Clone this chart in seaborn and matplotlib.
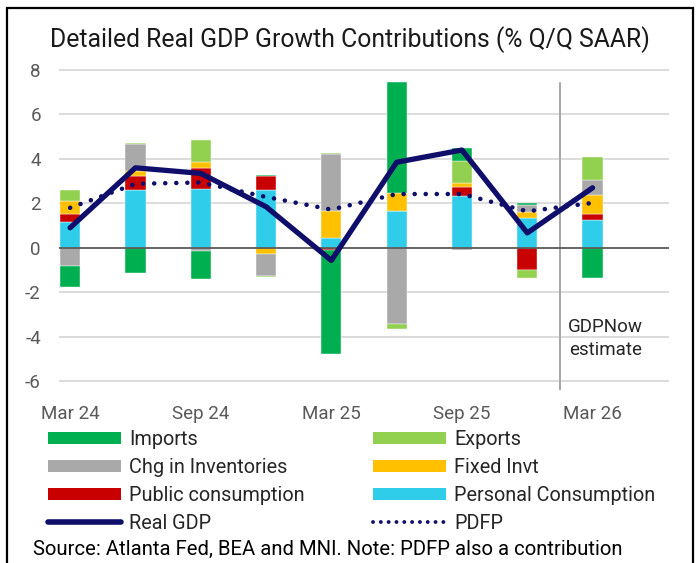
import numpy as np
import pandas as pd
import matplotlib
matplotlib.use("Agg")
import matplotlib.pyplot as plt
from matplotlib.patches import Patch, Rectangle
from matplotlib.lines import Line2D
import seaborn as sns

# Quarterly contributions to real GDP growth (% Q/Q SAAR)
quarters = ['Mar 24', 'Jun 24', 'Sep 24', 'Dec 24', 'Mar 25', 'Jun 25', 'Sep 25', 'Dec 25', 'Mar 26']
tick_labels = ['Mar 24', 'Sep 24', 'Mar 25', 'Sep 25', 'Mar 26']

personal = [1.17, 2.59, 2.66, 2.59, 0.42, 1.67, 2.35, 1.35, 1.23]
public = [0.37, 0.63, 0.93, 0.63, -0.10, 0.0, 0.37, -1.00, 0.31]
fixed_invt = [0.55, 0.22, 0.25, -0.30, 1.23, 0.79, 0.19, 0.25, 0.82]
inventories = [-0.82, 1.23, -0.15, -0.97, 2.57, -3.44, -0.12, 0.33, 0.67]
exports = [0.50, 0.05, 0.99, -0.03, 0.05, -0.22, 1.00, -0.37, 1.05]
imports = [-0.93, -1.12, -1.27, 0.07, -4.70, 5.00, 0.60, 0.09, -1.37]

real_gdp = [0.9, 3.6, 3.35, 1.85, -0.57, 3.85, 4.4, 0.67, 2.7]
pdfp = [1.8, 2.88, 2.94, 2.29, 1.72, 2.42, 2.42, 1.64, 2.02]

# stacking order (bottom to top) and colours
series = [
    ('Personal Consumption', personal, '#30CDEB'),
    ('Public consumption', public, '#C80000'),
    ('Fixed Invt', fixed_invt, '#FFC000'),
    ('Chg in Inventories', inventories, '#A9A9A9'),
    ('Exports', exports, '#92D050'),
    ('Imports', imports, '#00B050'),
]
navy = '#0F0F6B'

sns.set_theme(style="white")
plt.rcParams['font.family'] = ['Roboto', 'DejaVu Sans']

fig = plt.figure(figsize=(6.99, 5.63), dpi=100)
W, H = 699, 563
ax = fig.add_axes([59 / W, 1 - 390 / H, (669 - 59) / W, (390 - 65.6) / H])

x = np.arange(len(quarters))
pos_base = np.zeros(len(x))
neg_base = np.zeros(len(x))
for name, vals, col in series:
    v = np.array(vals, dtype=float)
    bottoms = np.where(v >= 0, pos_base, neg_base)
    ax.bar(x, v, width=0.31, bottom=bottoms, color=col, edgecolor='white', linewidth=0.3, zorder=2)
    pos_base = pos_base + np.where(v >= 0, v, 0)
    neg_base = neg_base + np.where(v < 0, v, 0)

df = pd.DataFrame({'x': x, 'Real GDP': real_gdp, 'PDFP': pdfp})
sns.lineplot(data=df, x='x', y='PDFP', ax=ax, color=navy, linewidth=3.3,
             linestyle=(0, (0.01, 2.4)), dash_capstyle='round', zorder=3)
sns.lineplot(data=df, x='x', y='Real GDP', ax=ax, color=navy, linewidth=3.8,
             solid_joinstyle='round', solid_capstyle='round', zorder=4)

ax.set_xlim(-0.17, 9.17)
ax.set_ylim(-6.4, 8.2)
ax.set_yticks(np.arange(-6, 9, 2))
ax.set_yticklabels([str(v) for v in range(-6, 9, 2)])
ax.set_xticks(x[::2])
ax.set_xticklabels(tick_labels)
ax.tick_params(axis='both', length=0, labelsize=13.5, labelcolor='#595959')
ax.tick_params(axis='y', pad=13)
ax.tick_params(axis='x', pad=11)
ax.set_xlabel('')
ax.set_ylabel('')
for s in ax.spines.values():
    s.set_visible(False)
for v in range(-6, 9, 2):
    if v != 0:
        ax.axhline(v, color='#D9D9D9', linewidth=1.3, zorder=0)
ax.axhline(0, color='#595959', linewidth=1.3, zorder=2.5)

# estimate divider
ax.axvline(7.5, ymin=0, ymax=(7.4 + 6.4) / 14.6, color='#A6A6A6', linewidth=1.4, zorder=1)
ax.text(8.2, -4.08, 'GDPNow\nestimate', ha='center', va='center', fontsize=13.5,
        color='#262626', linespacing=1.4)

fig.text(350 / W, 1 - 40 / H, 'Detailed Real GDP Growth Contributions (% Q/Q SAAR)',
         ha='center', va='center', fontsize=17.8, color='#1A1A1A')

colors = {name: col for name, vals, col in series}
def patch(name):
    return Patch(facecolor=colors[name], edgecolor='none')

left_h = [patch('Imports'), patch('Chg in Inventories'), patch('Public consumption'),
          Line2D([], [], color=navy, linewidth=4, solid_capstyle='round')]
left_l = ['Imports', 'Chg in Inventories', 'Public consumption', 'Real GDP']
right_h = [patch('Exports'), patch('Fixed Invt'), patch('Personal Consumption'),
           Line2D([], [], color=navy, linewidth=2.8, linestyle=(0, (0.01, 2.0)), dash_capstyle='round')]
right_l = ['Exports', 'Fixed Invt', 'Personal Consumption', 'PDFP']

for hs, ls, xl in [(left_h, left_l, 48), (right_h, right_l, 373)]:
    fig.legend(hs, ls, loc='upper left', bbox_to_anchor=(xl / W, 1 - 430 / H),
               frameon=False, fontsize=14.3, handlelength=3.7, handleheight=0.55,
               handletextpad=0.4, labelspacing=0.45, borderpad=0, borderaxespad=0,
               labelcolor='#262626')

fig.text(33 / W, 1 - 549 / H, 'Source: Atlanta Fed, BEA and MNI. Note: PDFP also a contribution',
         ha='left', va='center', fontsize=14.6, color='black')

fig.patches.append(Rectangle((7 / W, -0.02), (693 - 7) / W, 1.02 - 8 / H, transform=fig.transFigure,
                             fill=False, edgecolor='black', linewidth=1.6))

fig.savefig('out.png', dpi=100)
